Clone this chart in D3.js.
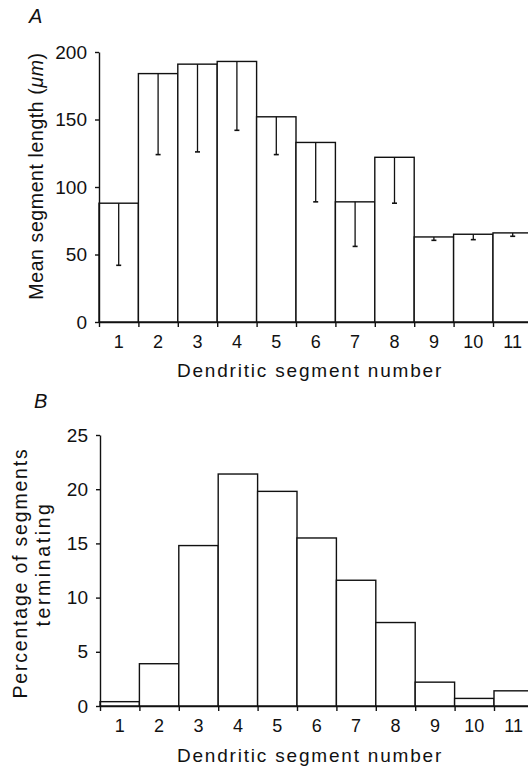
<!DOCTYPE html>
<html>
<head>
<meta charset="utf-8">
<script src="https://cdn.jsdelivr.net/npm/d3@7"></script>
<style>
  html, body { margin: 0; padding: 0; background: #fff; overflow: hidden; }
  svg { display: block; }
  text { font-family: "Liberation Sans", Arial, Helvetica, sans-serif; fill: #111; }
</style>
</head>
<body>
<div id="viz"></div>
<script>
// ---- Data ----
const segments = [1, 2, 3, 4, 5, 6, 7, 8, 9, 10, 11];
const meanLength = [88, 184, 191, 193, 152, 133, 89, 122, 63, 65, 66];      // µm
const lengthSD = [46, 60, 65, 51, 28, 44, 33, 34, 2.5, 4, 2.5];             // drawn downwards only
const pctTerminating = [0.4, 3.9, 14.8, 21.4, 19.8, 15.5, 11.6, 7.7, 2.2, 0.7, 1.4];
const lengthTicks = [0, 50, 100, 150, 200];
const pctTicks = [0, 5, 10, 15, 20, 25];

const W = 528, H = 768;
const INK = '#111';

const svg = d3.select('#viz').append('svg')
  .attr('width', W).attr('height', H)
  .attr('viewBox', `0 0 ${W} ${H}`);

// ---- one panel ----
function drawPanel({ letter, letterPos, top, bottom, left, yMax, yTicks, values, sd, yLabel, labelBaseY, titleY }) {
  const barW = 39.4;
  const x = d3.scaleLinear().domain([0.5, segments.length + 0.5]).range([left, left + segments.length * barW]);
  const y = d3.scaleLinear().domain([0, yMax]).range([bottom, top]);
  const g = svg.append('g');

  // bars
  g.selectAll('rect.bar').data(segments).join('rect')
    .attr('class', 'bar')
    .attr('x', d => x(d - 0.5)).attr('width', x(1.5) - x(0.5))
    .attr('y', (d, i) => y(values[i])).attr('height', (d, i) => y(0) - y(values[i]))
    .attr('fill', '#fff').attr('stroke', INK).attr('stroke-width', 1.4);

  // error bars (lower half only)
  if (sd) {
    const eb = g.selectAll('g.err').data(segments).join('g').attr('class', 'err');
    eb.append('line')
      .attr('x1', d => x(d)).attr('x2', d => x(d))
      .attr('y1', (d, i) => y(values[i])).attr('y2', (d, i) => y(values[i] - sd[i]))
      .attr('stroke', INK).attr('stroke-width', 1.3);
    eb.append('line')
      .attr('x1', d => x(d) - 2.5).attr('x2', d => x(d) + 2.5)
      .attr('y1', (d, i) => y(values[i] - sd[i])).attr('y2', (d, i) => y(values[i] - sd[i]))
      .attr('stroke', INK).attr('stroke-width', 1.6);
  }

  // y axis
  const yAxis = g.append('g').attr('transform', `translate(${left},0)`)
    .call(d3.axisLeft(y).tickValues(yTicks).tickSize(4).tickSizeOuter(0).tickPadding(8));
  yAxis.select('.domain').attr('stroke', INK).attr('stroke-width', 1.4);
  yAxis.selectAll('.tick line').attr('stroke', INK).attr('stroke-width', 1.4);
  yAxis.selectAll('.tick text').style('font-size', '19px').attr('fill', INK);

  // x axis: ticks at bar boundaries, labels centred in bars
  const edges = d3.range(0.5, segments.length + 1, 1);
  const xAxis = g.append('g').attr('transform', `translate(0,${bottom})`)
    .call(d3.axisBottom(x).tickValues(edges).tickSize(5).tickSizeOuter(0).tickFormat(''));
  xAxis.select('.domain').attr('stroke', INK).attr('stroke-width', 1.4);
  xAxis.selectAll('.tick line').attr('stroke', INK).attr('stroke-width', 1.4);

  g.selectAll('text.xlab').data(segments).join('text')
    .attr('class', 'xlab')
    .attr('x', d => x(d)).attr('y', labelBaseY)
    .attr('text-anchor', 'middle')
    .style('font-size', '18px')
    .text(d => d);

  svg.append('text')
    .attr('x', 310).attr('y', titleY)
    .attr('text-anchor', 'middle')
    .style('font-size', '19px').style('letter-spacing', '1.8px')
    .text('Dendritic segment number');

  // y label
  yLabel(g);

  // panel letter
  svg.append('text')
    .attr('x', letterPos[0]).attr('y', letterPos[1])
    .style('font-size', '20px').style('font-style', 'italic')
    .text(letter);
}

drawPanel({
  letter: 'A', letterPos: [29, 23],
  top: 52, bottom: 322, left: 99,
  yMax: 200, yTicks: lengthTicks,
  values: meanLength, sd: lengthSD,
  labelBaseY: 348, titleY: 377,
  yLabel: g => {
    const t = g.append('text')
      .attr('transform', 'translate(43,176) rotate(-90)')
      .attr('text-anchor', 'middle')
      .style('font-size', '19.5px').style('letter-spacing', '0.6px');
    t.append('tspan').text('Mean segment length (');
    t.append('tspan').style('font-style', 'italic').text('\u03bcm');
    t.append('tspan').text(')');
  }
});

drawPanel({
  letter: 'B', letterPos: [34, 408],
  top: 435, bottom: 706, left: 100,
  yMax: 25, yTicks: pctTicks,
  values: pctTerminating, sd: null,
  labelBaseY: 732, titleY: 762,
  yLabel: g => {
    g.append('text')
      .attr('transform', 'translate(27,573) rotate(-90)')
      .attr('text-anchor', 'middle')
      .style('font-size', '19.5px').style('letter-spacing', '1.8px')
      .text('Percentage of segments');
    g.append('text')
      .attr('transform', 'translate(50,564) rotate(-90)')
      .attr('text-anchor', 'middle')
      .style('font-size', '19.5px').style('letter-spacing', '2.6px')
      .text('terminating');
  }
});
</script>
</body>
</html>
